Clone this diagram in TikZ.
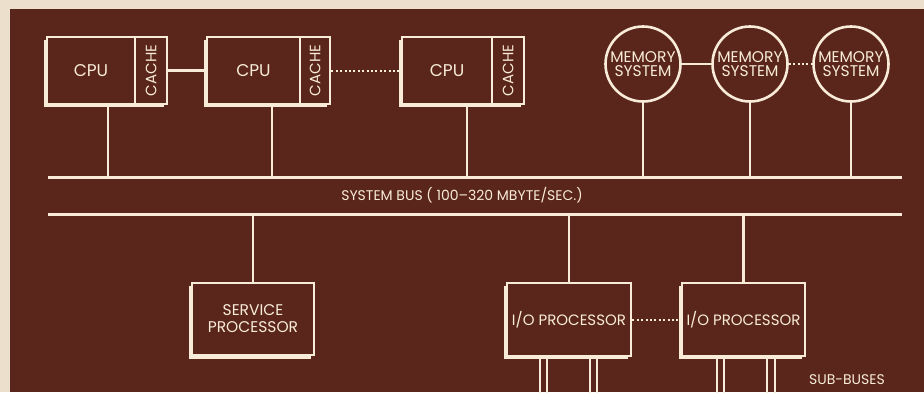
\documentclass[tikz,border=0pt]{standalone}
\usepackage{fontspec}
\setmainfont{Poppins}
\definecolor{bg}{RGB}{90,38,27}
\definecolor{paper}{RGB}{236,224,204}
\definecolor{ink}{RGB}{248,236,216}
\begin{document}
\begin{tikzpicture}[x=1pt,y=-1pt,
  ln/.style={draw=ink,line width=2.6pt},
  dotln/.style={draw=ink,line width=2pt,dash pattern=on 2pt off 2.4pt},
  box/.style={ln,fill=bg,rectangle,inner sep=0pt,text=ink,font=\fontsize{17}{17}\selectfont},
  mem/.style={ln,fill=bg,circle,inner sep=0pt,minimum size=75pt,text=ink,align=center,font=\fontsize{15.5}{14}\selectfont},
  lbl/.style={text=ink,inner sep=0pt}
]
\useasboundingbox (0,0) rectangle (924,392);
\fill[paper] (0,0) rectangle (924,392);
\fill[bg] (10,9) rectangle (924,392);

% box shadows
\foreach \a/\b in {47/167,207/330,402/524}{
  \fill[ink] (\a-3,40) rectangle (\b-3,107);
}
\foreach \a/\b in {192/314,507/631,682/805}{
  \fill[ink] (\a-3,286) rectangle (\b-3,359);
}

\node[box,minimum width=88pt,minimum height=67pt] (cpu1) at (91,70.5) {CPU};
\node[box,minimum width=32pt,minimum height=67pt] (cache1) at (151,70.5) {\rotatebox{90}{\fontsize{15}{15}\selectfont CACHE}};
\node[box,minimum width=93pt,minimum height=67pt] (cpu2) at (253.5,70.5) {CPU};
\node[box,minimum width=30pt,minimum height=67pt] (cache2) at (315,70.5) {\rotatebox{90}{\fontsize{15}{15}\selectfont CACHE}};
\node[box,minimum width=90pt,minimum height=67pt] (cpu3) at (447,70.5) {CPU};
\node[box,minimum width=32pt,minimum height=67pt] (cache3) at (508,70.5) {\rotatebox{90}{\fontsize{15}{15}\selectfont CACHE}};

% memory systems
\node[mem] (mem1) at (643,64) {MEMORY\\SYSTEM};
\node[mem] (mem2) at (750,64) {MEMORY\\SYSTEM};
\node[mem] (mem3) at (851,64) {MEMORY\\SYSTEM};

% lower boxes
\node[box,minimum width=122pt,minimum height=72pt,align=center,font=\fontsize{15.5}{17}\selectfont] (svc) at (253,319) {SERVICE\\PROCESSOR};
\node[box,minimum width=124pt,minimum height=73pt,font=\fontsize{15}{15}\selectfont] (io1) at (569,319.5) {I/O PROCESSOR};
\node[box,minimum width=123pt,minimum height=73pt,font=\fontsize{15}{15}\selectfont] (io2) at (743.5,319.5) {I/O PROCESSOR};

% horizontal links
\draw[ln] (cache1.east) -- (cpu2.west);
\draw[dotln] (cache2.east) -- (cpu3.west);
\draw[ln] (mem1.east) -- (mem2.west);
\draw[dotln] (mem2.east) -- (mem3.west);
\draw[dotln] (io1.east) -- (io2.west);

% buses
\coordinate (b1w) at (48,177);
\coordinate (b1e) at (902,177);
\coordinate (b2w) at (48,214);
\coordinate (b2e) at (902,214);
\draw[ln,line width=3pt] (b1w) -- (b1e);
\draw[ln,line width=3pt] (b2w) -- (b2e);
\node[lbl,font=\fontsize{14}{14}\selectfont] (buslbl) at (462,195) {SYSTEM BUS ( 100–320 MBYTE/SEC.)};

% taps to top bus
\coordinate (t1) at (108,177);
\coordinate (t2) at (272,177);
\coordinate (t3) at (467,177);
\coordinate (t4) at (643,177);
\coordinate (t5) at (750,177);
\coordinate (t6) at (851,177);
\draw[ln,line width=2.2pt] (t1 |- cpu1.south) -- (t1);
\draw[ln,line width=2.2pt] (t2 |- cpu2.south) -- (t2);
\draw[ln,line width=2.2pt] (t3 |- cpu3.south) -- (t3);
\draw[ln,line width=2.2pt] (mem1.south) -- (t4);
\draw[ln,line width=2.2pt] (mem2.south) -- (t5);
\draw[ln,line width=2.2pt] (mem3.south) -- (t6);

% taps to lower bus
\coordinate (u1) at (253,214);
\coordinate (u2) at (569,214);
\coordinate (u3) at (743.5,214);
\draw[ln,line width=2.2pt] (u1) -- (svc.north);
\draw[ln,line width=2.2pt] (u2) -- (io1.north);
\draw[ln,line width=2.2pt] (u3) -- (io2.north);

% sub-buses
\foreach \x [count=\i] in {540,547,590,597}{
  \coordinate (sa\i) at (\x,395);
  \draw[ln,line width=2.2pt] (sa\i |- io1.south) -- (sa\i);
}
\foreach \x [count=\i] in {717,724,767,775}{
  \coordinate (sb\i) at (\x,395);
  \draw[ln,line width=2.2pt] (sb\i |- io2.south) -- (sb\i);
}
\node[lbl,font=\fontsize{14}{14}\selectfont] (sublbl) at (847,380) {SUB-BUSES};
\end{tikzpicture}
\end{document}
